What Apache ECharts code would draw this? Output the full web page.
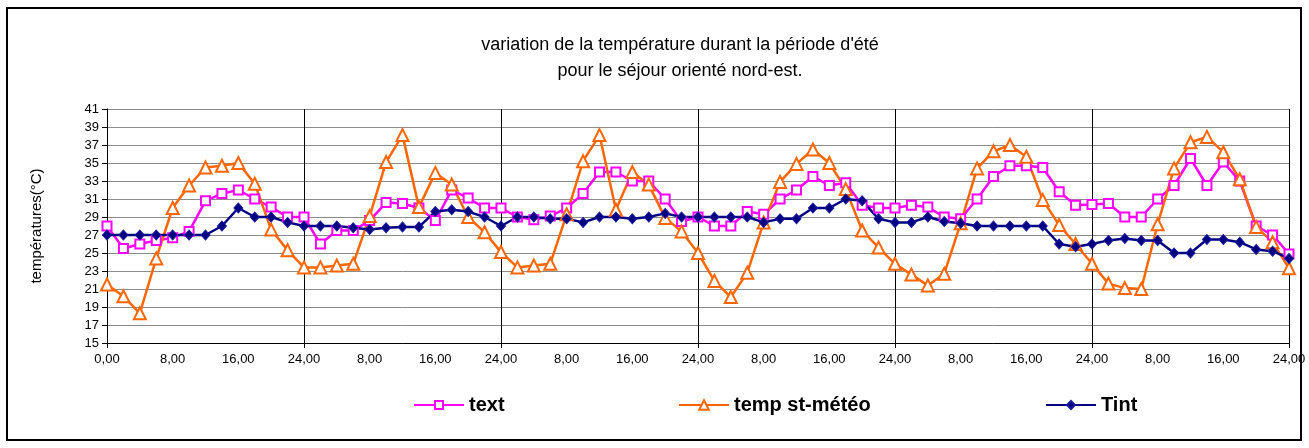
<!DOCTYPE html>
<html>
<head>
<meta charset="utf-8">
<script src="https://cdn.jsdelivr.net/npm/echarts@6/dist/echarts.min.js"></script>
<style>
  html, body { margin: 0; padding: 0; background: #fff; }
  #chart { width: 1309px; height: 448px; }
</style>
</head>
<body>
<div id="chart"></div>
<script>
// hours of the 6-day summer run, one reading every 2 h
const hours = [
    '0,00', '2,00', '4,00', '6,00', '8,00', '10,00', '12,00', '14,00', '16,00', '18,00', '20,00', '22,00', '24,00',
    '2,00', '4,00', '6,00', '8,00', '10,00', '12,00', '14,00', '16,00', '18,00', '20,00', '22,00', '24,00',
    '2,00', '4,00', '6,00', '8,00', '10,00', '12,00', '14,00', '16,00', '18,00', '20,00', '22,00', '24,00',
    '2,00', '4,00', '6,00', '8,00', '10,00', '12,00', '14,00', '16,00', '18,00', '20,00', '22,00', '24,00',
    '2,00', '4,00', '6,00', '8,00', '10,00', '12,00', '14,00', '16,00', '18,00', '20,00', '22,00', '24,00',
    '2,00', '4,00', '6,00', '8,00', '10,00', '12,00', '14,00', '16,00', '18,00', '20,00', '22,00', '24,00'
];

const text = [
    28.0, 25.5, 26.0, 26.4, 26.7, 27.4, 30.8, 31.6, 32.0, 31.0, 30.1, 29.0, 29.0,
    26.0, 27.5, 27.5, 28.6, 30.6, 30.5, 30.0, 28.6, 32.0, 31.1, 30.0, 30.0,
    29.0, 28.7, 29.1, 30.0, 31.6, 34.0, 34.0, 33.0, 33.0, 31.0, 28.5, 29.0,
    28.0, 28.0, 29.6, 29.3, 31.0, 32.0, 33.5, 32.5, 32.8, 30.3, 30.0, 30.0,
    30.3, 30.1, 29.0, 28.8, 31.0, 33.5, 34.7, 34.7, 34.5, 31.8, 30.3, 30.4,
    30.5, 29.0, 29.0, 31.0, 32.5, 35.5, 32.5, 35.1, 33.0, 28.0, 27.0, 24.9
];

const tempMeteo = [
    21.5, 20.2, 18.3, 24.4, 30.0, 32.5, 34.5, 34.7, 35.0, 32.7, 27.6, 25.3, 23.4,
    23.4, 23.6, 23.8, 29.1, 35.1, 38.1, 30.1, 33.9, 32.6, 29.0, 27.3, 25.1,
    23.4, 23.6, 23.8, 29.3, 35.2, 38.1, 29.8, 34.0, 32.6, 28.9, 27.4, 25.0,
    21.9, 20.1, 22.8, 28.4, 32.9, 34.9, 36.5, 35.0, 32.1, 27.5, 25.6, 23.8,
    22.6, 21.4, 22.7, 28.3, 34.4, 36.3, 37.0, 35.7, 30.9, 28.1, 26.0, 23.8,
    21.6, 21.1, 21.0, 28.2, 34.4, 37.3, 37.9, 36.2, 33.2, 27.9, 26.2, 23.3
];

const tint = [
    27.0, 27.0, 27.0, 27.0, 27.0, 27.0, 27.0, 28.0, 30.0, 29.0, 29.0, 28.4, 28.0,
    28.0, 28.0, 27.8, 27.6, 27.8, 27.9, 27.9, 29.6, 29.8, 29.6, 29.0, 28.0,
    29.0, 29.0, 28.8, 28.8, 28.4, 29.0, 29.0, 28.8, 29.0, 29.4, 29.0, 29.0,
    29.0, 29.0, 29.0, 28.4, 28.8, 28.8, 30.0, 30.0, 31.0, 30.8, 28.8, 28.4,
    28.4, 29.0, 28.5, 28.3, 28.0, 28.0, 28.0, 28.0, 28.0, 26.0, 25.7, 26.0,
    26.4, 26.6, 26.4, 26.4, 25.0, 25.0, 26.5, 26.5, 26.2, 25.4, 25.2, 24.4
];

const seriesNames = ['text', 'temp st-météo', 'Tint'];

const el = document.getElementById('chart');
const chart = echarts.init(el, null, { renderer: 'canvas' });

const font = 'Liberation Sans, Arial, sans-serif';
const legendText = { color: '#000', fontSize: 20, fontWeight: 'bold', fontFamily: font };

const option = {
    backgroundColor: '#fff',
    animation: false,
    textStyle: { fontFamily: font, color: '#000' },
    title: {
        text: 'variation de la température durant la période d\'été\npour le séjour orienté nord-est.',
        left: 675,
        top: 27,
        textAlign: 'center',
        textStyle: { fontSize: 18, fontWeight: 'normal', color: '#000', lineHeight: 26, fontFamily: font }
    },
    legend: [
        { data: [seriesNames[0]], left: 413, top: 395, padding: 0, itemWidth: 50, itemHeight: 10, textStyle: legendText },
        { data: [seriesNames[1]], left: 678, top: 395, padding: 0, itemWidth: 50, itemHeight: 12, textStyle: legendText },
        { data: [seriesNames[2]], left: 1045, top: 395, padding: 0, itemWidth: 50, itemHeight: 10, textStyle: legendText }
    ],
    graphic: [{
        type: 'rect',
        shape: { x: 7, y: 8, width: 1294, height: 432 },
        style: { fill: 'none', stroke: '#000', lineWidth: 2 },
        silent: true
    }],
    grid: { left: 107, right: 20, top: 109, bottom: 105 },
    xAxis: {
        type: 'category',
        data: hours,
        boundaryGap: false,
        axisLine: { lineStyle: { color: '#000', width: 1 } },
        axisTick: { show: true, interval: 11, length: 5, lineStyle: { color: '#000' } },
        axisLabel: { interval: 3, fontSize: 13, color: '#000', margin: 10, fontFamily: font },
        splitLine: { show: true, interval: 11, lineStyle: { color: '#000', width: 1 } }
    },
    yAxis: {
        type: 'value',
        min: 15,
        max: 41,
        interval: 2,
        name: 'températures(°C)',
        nameLocation: 'middle',
        nameRotate: 90,
        nameGap: 63,
        nameTextStyle: { fontSize: 15, color: '#000', fontFamily: font },
        axisLine: { show: true, lineStyle: { color: '#000', width: 1 } },
        axisTick: { show: true, length: 5, lineStyle: { color: '#000' } },
        axisLabel: { fontSize: 13, color: '#000', margin: 8, fontFamily: font },
        splitLine: { show: true, lineStyle: { color: '#8c8c8c', width: 1 } }
    },
    series: [
        {
            name: seriesNames[0],
            type: 'line',
            data: text,
            showAllSymbol: true,
            symbol: 'emptyRect',
            symbolSize: 9,
            lineStyle: { color: '#ff00ff', width: 2.5 },
            itemStyle: { color: '#ff00ff', borderWidth: 2 }
        },
        {
            name: seriesNames[1],
            type: 'line',
            data: tempMeteo,
            showAllSymbol: true,
            symbol: 'emptyTriangle',
            symbolSize: 12,
            lineStyle: { color: '#ff6600', width: 2.5 },
            itemStyle: { color: '#ff6600', borderWidth: 2 }
        },
        {
            name: seriesNames[2],
            type: 'line',
            data: tint,
            showAllSymbol: true,
            symbol: 'diamond',
            symbolSize: [9, 10],
            lineStyle: { color: '#000080', width: 2.5 },
            itemStyle: { color: '#000080', borderColor: '#1a1aa0', borderWidth: 1 }
        }
    ]
};

chart.setOption(option, true);
window.addEventListener('resize', () => chart.resize());
</script>
</body>
</html>
